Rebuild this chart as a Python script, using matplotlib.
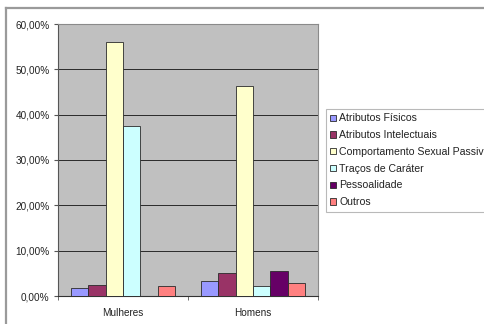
import matplotlib
matplotlib.use("Agg")
import matplotlib.pyplot as plt
from matplotlib.lines import Line2D
from matplotlib.ticker import FuncFormatter, FixedLocator
import numpy as np

plt.rcParams['font.family'] = ['Liberation Sans', 'DejaVu Sans']

groups = ["Mulheres", "Homens"]
series = ["Atributos Físicos", "Atributos Intelectuais", "Comportamento Sexual Passivo",
          "Traços de Caráter", "Pessoalidade", "Outros"]
values = {
    "Atributos Físicos":            [1.8, 3.3],
    "Atributos Intelectuais":       [2.4, 5.0],
    "Comportamento Sexual Passivo": [56.1, 46.4],
    "Traços de Caráter":            [37.5, 2.2],
    "Pessoalidade":                 [0.0, 5.6],
    "Outros":                       [2.3, 2.9],
}
colors = ["#9999FF", "#993366", "#FFFFCC", "#CCFFFF", "#660066", "#FF8080"]
yticks = [0, 10, 20, 30, 40, 50, 60]

W, H = 484, 324
fig = plt.figure(figsize=(W / 100, H / 100), dpi=100)
fig.patch.set_facecolor("white")

# chart-area border (left and top edges visible)
fig.add_artist(Line2D([6 / W, 6 / W], [-0.1, 1 - 8 / H], transform=fig.transFigure,
                      color="#9a9a9a", lw=1.6))
fig.add_artist(Line2D([6 / W, 1.1], [1 - 8 / H, 1 - 8 / H], transform=fig.transFigure,
                      color="#9a9a9a", lw=1.6))

x0, x1, ytop, ybot = 58, 318, 24, 296
ax = fig.add_axes([x0 / W, 1 - ybot / H, (x1 - x0) / W, (ybot - ytop) / H])
ax.set_facecolor("#C0C0C0")

x = np.arange(len(groups))
n = len(series)
bw = 0.8 / n
handles = []
for i, (name, col) in enumerate(zip(series, colors)):
    b = ax.bar(x + (i - (n - 1) / 2) * bw, values[name], width=bw, color=col,
               edgecolor="#2a2a2a", linewidth=0.6, zorder=3, label=name)
    handles.append(b)

ax.set_xlim(-0.5, len(groups) - 0.5)
ax.set_ylim(0, 60)
ax.yaxis.set_major_locator(FixedLocator(yticks))
ax.yaxis.set_major_formatter(FuncFormatter(lambda v, p: f"{v:.2f}".replace(".", ",") + "%"))
ax.grid(axis="y", color="#2a2a2a", lw=0.7, zorder=1)
ax.set_axisbelow(True)

ax.set_xticks(x)
ax.set_xticklabels(groups)
ax.set_xticks([-0.5, 0.5, 1.5], minor=True)
ax.tick_params(axis="x", which="major", length=0, pad=9, labelsize=7.2, labelcolor="#222222")
ax.tick_params(axis="x", which="minor", length=3, color="#555555", direction="out")
ax.tick_params(axis="y", length=3, color="#555555", labelsize=7.2, labelcolor="#222222", pad=3)

for s in ["top", "right"]:
    ax.spines[s].set_color("#8a8a8a")
    ax.spines[s].set_linewidth(0.8)
ax.spines["left"].set_color("#555555")
ax.spines["bottom"].set_color("#333333")
ax.spines["left"].set_linewidth(0.8)
ax.spines["bottom"].set_linewidth(0.8)

leg = fig.legend(handles=handles, labels=series, loc="upper left",
                 bbox_to_anchor=(326 / W, 1 - 109 / H), bbox_transform=fig.transFigure,
                 fontsize=7.6, frameon=True, fancybox=False, edgecolor="#a8a8a8",
                 handlelength=0.55, handleheight=0.55, handletextpad=0.3,
                 labelspacing=0.64, borderpad=0.42, borderaxespad=0)
leg.get_frame().set_linewidth(0.8)
for t in leg.get_texts():
    t.set_color("#222222")

fig.savefig("out.png", dpi=100)
